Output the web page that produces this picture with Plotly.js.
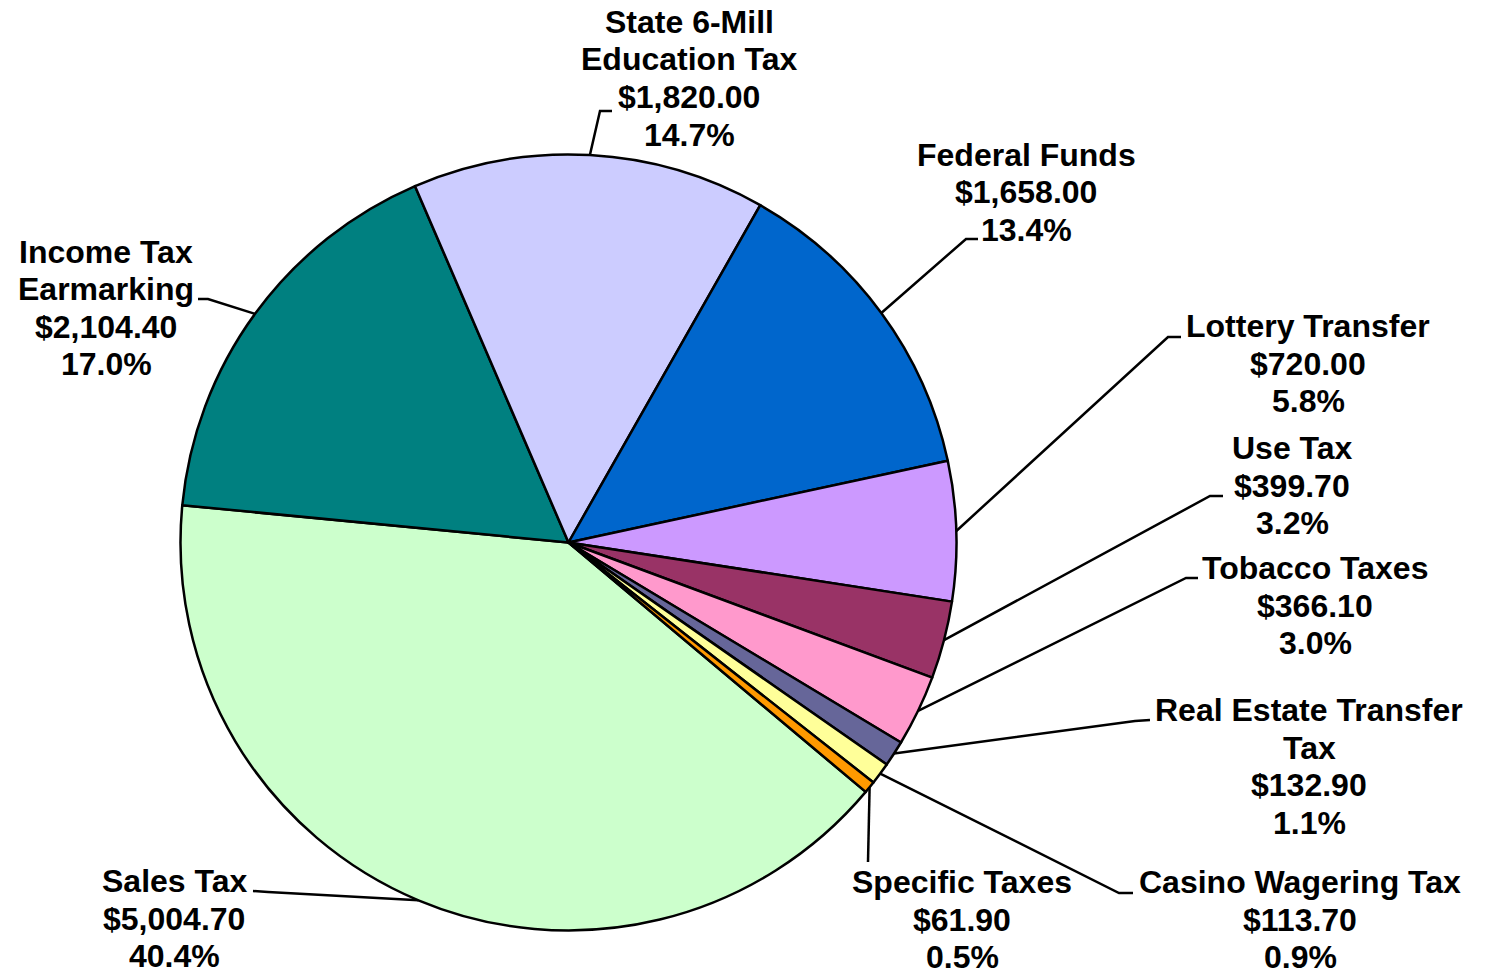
<!DOCTYPE html>
<html>
<head>
<meta charset="utf-8">
<script src="https://cdn.plot.ly/plotly-3.0.1.min.js"></script>
<style>
html,body{margin:0;padding:0;background:#ffffff;}
#chart{width:1486px;height:976px;}
</style>
</head>
<body>
<div id="chart"></div>
<script>
// ---------------- data ----------------
const categories = ["Sales Tax", "Income Tax Earmarking", "State 6-Mill Education Tax", "Federal Funds",
  "Lottery Transfer", "Use Tax", "Tobacco Taxes", "Real Estate Transfer Tax", "Casino Wagering Tax", "Specific Taxes"];
const labelLines = [["Sales Tax"], ["Income Tax", "Earmarking"], ["State 6-Mill", "Education Tax"], ["Federal Funds"],
  ["Lottery Transfer"], ["Use Tax"], ["Tobacco Taxes"], ["Real Estate Transfer", "Tax"], ["Casino Wagering Tax"], ["Specific Taxes"]];
const values = [5004.7, 2104.4, 1820.0, 1658.0, 720.0, 399.7, 366.1, 132.9, 113.7, 61.9];
const colors = ["#CCFFCC", "#008080", "#CCCCFF", "#0066CC", "#CC99FF", "#993366", "#FF99CC", "#666699", "#FFFF99", "#FF9900"];

// ---------------- layout constants ----------------
const W = 1486, H = 976;
const CX = 568.5, CY = 542.5, R = 388, ROT = 130;
const LINE_H = 37.5;
// label block: centre x, centre y of first line (pixels)
const labelPos = [[174, 881], [106, 252], [689, 22], [1026, 155], [1308, 326],
  [1292, 448], [1315, 568], [1309, 710], [1300, 882], [962, 882]];
// leader line: elbow point and end point (pixels)
const leaderPts = [
  [[268, 892], [253, 891]],
  [[208, 299], [198, 299]],
  [[600, 111], [612, 111]],
  [[966, 239], [978, 239]],
  [[1168, 337], [1181, 337]],
  [[1210, 496], [1223, 496]],
  [[1186, 578], [1198, 578]],
  [[1135, 721], [1150, 720]],
  [[1119, 893], [1133, 893]],
  [[868, 862], [868, 862]]
];

const total = values.reduce((a, b) => a + b, 0);
const px = x => x / W;
const py = y => 1 - y / H;

const fmtMoney = v => "$" + v.toLocaleString("en-US", {minimumFractionDigits: 2, maximumFractionDigits: 2});
const fmtPct = v => (v / total * 100).toFixed(1) + "%";

const annotations = [];
const shapes = [];
let cum = 0;
values.forEach((v, i) => {
  const lines = labelLines[i].concat([fmtMoney(v), fmtPct(v)]);
  lines.forEach((t, j) => {
    annotations.push({
      x: px(labelPos[i][0]), y: py(labelPos[i][1] + j * LINE_H),
      xref: "paper", yref: "paper", xanchor: "center", yanchor: "middle",
      text: "<b>" + t + "</b>", showarrow: false,
      font: {family: "Liberation Sans, Arial, sans-serif", size: 32, color: "#000000"}
    });
  });
  const mid = (ROT + (cum + v / 2) / total * 360) * Math.PI / 180;
  cum += v;
  const sx = CX + R * Math.sin(mid), sy = CY - R * Math.cos(mid);
  const e = leaderPts[i][0], f = leaderPts[i][1];
  shapes.push({
    type: "path", xref: "paper", yref: "paper",
    path: `M ${px(sx)},${py(sy)} L ${px(e[0])},${py(e[1])} L ${px(f[0])},${py(f[1])}`,
    line: {color: "#000000", width: 2.5}
  });
});

const trace = {
  type: "pie",
  labels: categories,
  values: values,
  sort: false,
  direction: "clockwise",
  rotation: ROT,
  textinfo: "none",
  hoverinfo: "label+value+percent",
  marker: {colors: colors, line: {color: "#000000", width: 2.5}},
  domain: {x: [(CX - R) / W, (CX + R) / W], y: [1 - (CY + R) / H, 1 - (CY - R) / H]}
};

const layout = {
  width: W, height: H,
  margin: {l: 0, r: 0, t: 0, b: 0},
  paper_bgcolor: "#ffffff",
  plot_bgcolor: "#ffffff",
  showlegend: false,
  annotations: annotations,
  shapes: shapes
};

Plotly.newPlot("chart", [trace], layout, {displayModeBar: false, staticPlot: true});
</script>
</body>
</html>
